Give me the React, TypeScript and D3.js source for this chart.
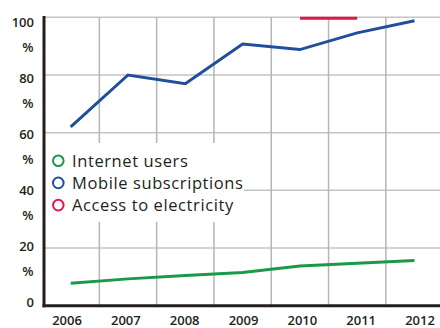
import React from "react";
import * as d3 from "d3";

const years = [2006, 2007, 2008, 2009, 2010, 2011, 2012];
const internetUsers = [7.8, 9.3, 10.5, 11.5, 13.8, 14.7, 15.7];
const mobileSubs = [62, 80, 77, 90.7, 88.8, 94.6, 98.8];
const elecYears = [2010, 2011];
const electricity = [99.7, 99.7];
const yTicks = [0, 20, 40, 60, 80, 100];
const legendItems = [
  { label: "Internet users", color: "#1a9a48" },
  { label: "Mobile subscriptions", color: "#1f4e9c" },
  { label: "Access to electricity", color: "#e4154b" },
];

const W = 440;
const H = 328;
const FONT = "'Open Sans', 'DejaVu Sans', sans-serif";

export default function App() {
  const x = d3.scaleLinear().domain([2006, 2012]).range([70.7, 414.5]);
  const xLab = d3.scaleLinear().domain([2006, 2012]).range([67, 420]);
  const y = d3.scaleLinear().domain([0, 100]).range([305.7, 17.3]);
  const yLab = d3.scaleLinear().domain([0, 100]).range([302, 22]);
  const line = d3
    .line<[number, number]>()
    .x((d) => x(d[0]))
    .y((d) => y(d[1]));

  const gridX = years.slice(0, -1).map((yr) => x(yr + 0.5));
  const axisX = 44;
  const axisY = y(0);

  return (
    <svg
      width={W}
      height={H}
      style={{ position: "absolute", left: 0, top: 0, background: "#fff" }}
      fontFamily={FONT}
    >
      {/* gridlines */}
      {yTicks.slice(1).map((t) => (
        <line key={"h" + t} x1={axisX} x2={W} y1={y(t)} y2={y(t)} stroke="#c4c4c4" strokeWidth={1.5} />
      ))}
      {gridX.map((gx, i) => (
        <line key={"v" + i} x1={gx} x2={gx} y1={y(100)} y2={axisY} stroke="#b5b5b5" strokeWidth={1.5} />
      ))}

      {/* series */}
      <path d={line(years.map((yr, i) => [yr, internetUsers[i]]) as any) ?? ""} fill="none" stroke="#1a9a48" strokeWidth={3} />
      <path d={line(years.map((yr, i) => [yr, mobileSubs[i]]) as any) ?? ""} fill="none" stroke="#1f4e9c" strokeWidth={3} />
      <path d={line(elecYears.map((yr, i) => [yr, electricity[i]]) as any) ?? ""} fill="none" stroke="#e4154b" strokeWidth={3} />

      {/* legend */}
      <rect x={axisX + 1} y={143} width={199} height={79} fill="#fff" />
      {legendItems.map((it, i) => (
        <g key={it.label} transform={`translate(0, ${160.7 + i * 22.2})`}>
          <circle cx={58.3} cy={0} r={5.3} fill="none" stroke={it.color} strokeWidth={2} />
          <text x={72} y={5.9} fontSize={16.5} fontWeight={500} letterSpacing={0.6} fill="#231f20">
            {it.label}
          </text>
        </g>
      ))}

      {/* axes */}
      <line x1={axisX} x2={axisX} y1={16} y2={axisY + 1.5} stroke="#231f20" strokeWidth={3} />
      <line x1={axisX - 1.5} x2={W} y1={axisY} y2={axisY} stroke="#231f20" strokeWidth={3} />

      {/* y tick labels */}
      {yTicks.map((t) => (
        <g key={"yl" + t}>
          <text x={34} y={yLab(t) + 4.8} textAnchor="end" fontSize={13} fontWeight={600} fill="#231f20">
            {t}
          </text>
          {t > 0 && (
            <text x={33.5} y={yLab(t) + 29.5} textAnchor="end" fontSize={13} fontWeight={600} fill="#231f20">
              %
            </text>
          )}
        </g>
      ))}

      {/* x tick labels */}
      {years.map((yr) => (
        <text key={"xl" + yr} x={xLab(yr)} y={324.5} textAnchor="middle" fontSize={13} fontWeight={600} fill="#231f20">
          {yr}
        </text>
      ))}
    </svg>
  );
}
